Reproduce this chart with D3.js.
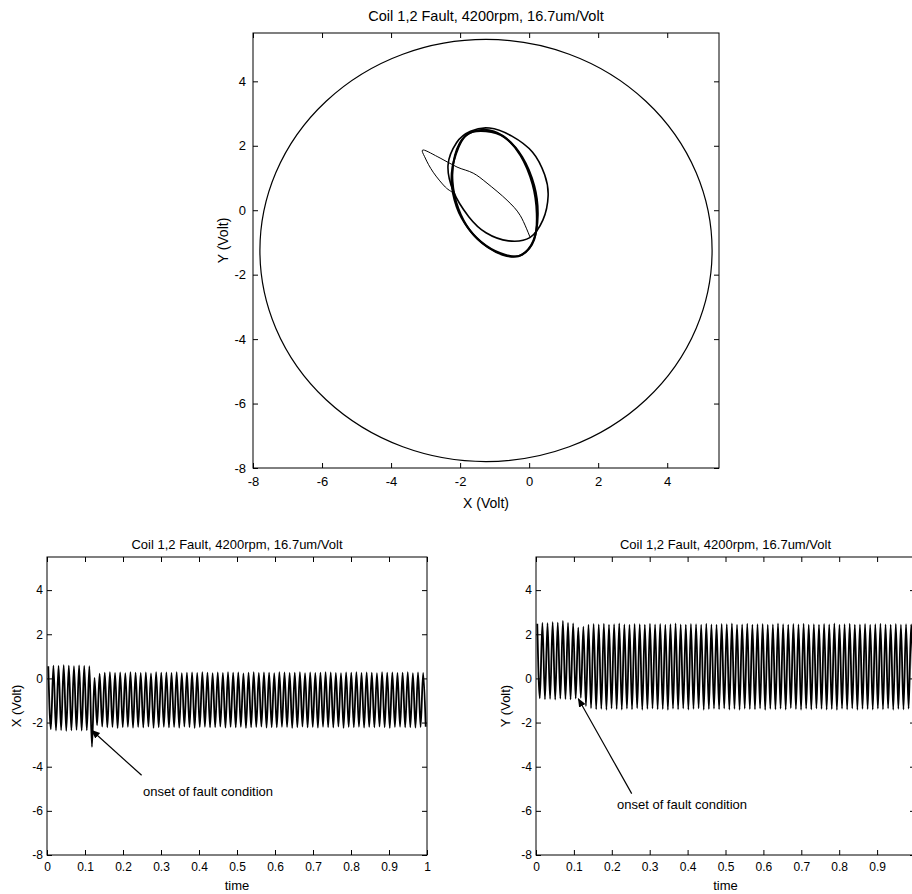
<!DOCTYPE html>
<html>
<head>
<meta charset="utf-8">
<script src="https://cdn.jsdelivr.net/npm/d3@7"></script>
<style>
  body { margin: 0; background: #fff; }
  svg { display: block; font-family: "Liberation Sans", Arial, sans-serif; }
</style>
</head>
<body>
<script>
// ---- data ----

// orbit plot ticks (both axes)
let orbitTicks = [-8, -6, -4, -2, 0, 2, 4];
let timeTicks = [0, 0.1, 0.2, 0.3, 0.4, 0.5, 0.6, 0.7, 0.8, 0.9, 1];
let voltTicks = [-8, -6, -4, -2, 0, 2, 4];

// clearance circle: centre x, centre y, radius (Volt)
let clearance = [-1.25, -1.25, 6.55];

// orbit traces, [X, Y] in Volt
let preFaultLoop = [[-1.15, 2.55], [-0.5, 2.3], [0.1, 1.8], [0.45, 1.1], [0.55, 0.45], [0.4, -0.3], [0.02, -0.85],
  [-0.6, -0.95], [-1.25, -0.7], [-1.75, -0.2], [-2.2, 0.6], [-2.35, 1.4], [-2.1, 2.1], [-1.7, 2.45]];
let postLoopA = [[-1.3, 2.5], [-0.75, 2.3], [-0.25, 1.7], [0.1, 0.8], [0.22, -0.1], [0.15, -0.9], [-0.2, -1.38],
  [-0.65, -1.42], [-1.2, -1.15], [-1.7, -0.65], [-2.05, 0.05], [-2.22, 0.9], [-2.15, 1.7], [-1.85, 2.3]];
let postLoopB = [[-1.25, 2.45], [-0.7, 2.25], [-0.2, 1.65], [0.15, 0.75], [0.25, -0.15], [0.12, -0.95], [-0.25, -1.4],
  [-0.7, -1.38], [-1.25, -1.1], [-1.75, -0.58], [-2.1, 0.1], [-2.25, 0.95], [-2.12, 1.75], [-1.8, 2.35]];
let transient = [[0.03, -0.85], [-0.26, -0.16], [-0.64, 0.31], [-1.22, 0.84], [-1.62, 1.15], [-2.09, 1.34],
  [-2.58, 1.62], [-3.07, 1.87], [-3.01, 1.62], [-2.78, 1.18], [-2.43, 0.72], [-2.2, 0.55]];

// time traces: one peak and one trough per shaft revolution
let cyclesPerSecond = 74;
let xPeaks = [0.55, 0.58, 0.57, 0.60, 0.58, 0.56, 0.59, 0.57, 0.55, 0.02,
  0.22, 0.26, 0.28, 0.25, 0.27, 0.24, 0.28, 0.26, 0.25, 0.27,
  0.23, 0.28, 0.26, 0.27, 0.25, 0.28, 0.24, 0.26, 0.27, 0.25,
  0.28, 0.26, 0.24, 0.27, 0.25, 0.28, 0.26, 0.27, 0.23, 0.26,
  0.28, 0.25, 0.27, 0.26, 0.24, 0.28, 0.27, 0.25, 0.26, 0.28,
  0.24, 0.27, 0.25, 0.26, 0.28, 0.27, 0.25, 0.24, 0.27, 0.26,
  0.28, 0.25, 0.27, 0.26, 0.24, 0.28, 0.26, 0.27, 0.25, 0.26,
  0.28, 0.24, 0.27, 0.25];
let xTroughs = [-2.30, -2.36, -2.34, -2.38, -2.35, -2.33, -2.37, -2.35, -3.10, -2.12,
  -2.18, -2.22, -2.20, -2.24, -2.21, -2.19, -2.23, -2.20, -2.22, -2.18,
  -2.24, -2.21, -2.19, -2.22, -2.20, -2.23, -2.18, -2.21, -2.24, -2.20,
  -2.19, -2.22, -2.21, -2.18, -2.23, -2.20, -2.22, -2.19, -2.24, -2.21,
  -2.20, -2.18, -2.23, -2.21, -2.22, -2.19, -2.20, -2.24, -2.21, -2.18,
  -2.22, -2.20, -2.23, -2.19, -2.21, -2.22, -2.18, -2.24, -2.20, -2.21,
  -2.19, -2.23, -2.20, -2.22, -2.18, -2.21, -2.24, -2.20, -2.19, -2.22,
  -2.21, -2.23, -2.20, -2.19];
let yPeaks = [2.48, 2.52, 2.50, 2.55, 2.53, 2.60, 2.51, 2.49, 2.30, 2.35,
  2.44, 2.47, 2.45, 2.48, 2.43, 2.46, 2.49, 2.45, 2.44, 2.47,
  2.46, 2.43, 2.48, 2.45, 2.47, 2.44, 2.46, 2.49, 2.45, 2.43,
  2.47, 2.46, 2.44, 2.48, 2.45, 2.43, 2.47, 2.46, 2.49, 2.44,
  2.45, 2.48, 2.43, 2.46, 2.47, 2.44, 2.45, 2.49, 2.46, 2.43,
  2.47, 2.45, 2.48, 2.44, 2.46, 2.43, 2.47, 2.45, 2.49, 2.44,
  2.46, 2.48, 2.43, 2.45, 2.47, 2.44, 2.46, 2.48, 2.45, 2.43,
  2.47, 2.44, 2.46, 2.45];
let yTroughs = [-0.90, -0.95, -0.93, -0.96, -0.92, -0.94, -0.95, -0.91, -0.88, -1.25,
  -1.35, -1.40, -1.38, -1.42, -1.36, -1.39, -1.41, -1.37, -1.40, -1.35,
  -1.42, -1.38, -1.36, -1.40, -1.39, -1.43, -1.37, -1.40, -1.36, -1.41,
  -1.38, -1.35, -1.42, -1.39, -1.37, -1.40, -1.36, -1.41, -1.38, -1.42,
  -1.37, -1.39, -1.40, -1.36, -1.43, -1.38, -1.40, -1.37, -1.41, -1.35,
  -1.39, -1.42, -1.37, -1.40, -1.36, -1.38, -1.41, -1.39, -1.43, -1.37,
  -1.40, -1.36, -1.42, -1.38, -1.39, -1.41, -1.37, -1.40, -1.36, -1.42,
  -1.38, -1.40, -1.37, -1.39];

let titleText = 'Coil 1,2 Fault, 4200rpm,  16.7um/Volt';
let titleSmall = 'Coil 1,2 Fault, 4200rpm, 16.7um/Volt';
let noteText = 'onset of fault condition';

let svg = d3.select('body')
  .append('svg')
  .attr('width', 912)
  .attr('height', 894);

svg.append('defs').append('marker')
  .attr('id', 'head')
  .attr('viewBox', '0 0 10 10')
  .attr('refX', 9).attr('refY', 5)
  .attr('markerWidth', 9).attr('markerHeight', 9)
  .attr('markerUnits', 'userSpaceOnUse')
  .attr('orient', 'auto')
  .append('path')
  .attr('d', 'M0,1L10,5L0,9z')
  .attr('fill', '#000');

// plain hyphen minus like matlab prints
let plainFmt = function (d) { return String(d); };

// draws a matlab style box with inward ticks on all four sides
function makePanel(opt) {
  let g = svg.append('g').attr('transform', 'translate(' + opt.left + ',' + opt.top + ')');
  let w = opt.right - opt.left, h = opt.bottom - opt.top;
  let x = d3.scaleLinear().domain(opt.xDomain).range([0, w]);
  let y = d3.scaleLinear().domain(opt.yDomain).range([h, 0]);

  g.append('rect').attr('width', w).attr('height', h)
    .attr('fill', 'none').attr('stroke', '#000').attr('stroke-width', 1);

  let fs = opt.fontSize;
  g.append('g').attr('transform', 'translate(0,' + h + ')')
    .call(d3.axisBottom(x).tickValues(opt.xTicks).tickSize(-5).tickPadding(opt.xPad).tickFormat(opt.xFmt || plainFmt));
  g.append('g')
    .call(d3.axisTop(x).tickValues(opt.xTicks).tickSize(-5).tickFormat(''));
  g.append('g')
    .call(d3.axisLeft(y).tickValues(opt.yTicks).tickSize(-5).tickPadding(opt.yPad).tickFormat(plainFmt));
  g.append('g').attr('transform', 'translate(' + w + ',0)')
    .call(d3.axisRight(y).tickValues(opt.yTicks).tickSize(-5).tickFormat(''));

  g.selectAll('.domain').remove();
  g.selectAll('.tick line').attr('stroke', '#000');
  g.selectAll('.tick text').attr('fill', '#000').style('font-size', fs + 'px').style('font-family', '"Liberation Sans", Arial, sans-serif');

  g.append('text').attr('x', w / 2).attr('y', -opt.titleGap)
    .attr('text-anchor', 'middle').style('font-size', opt.titleSize + 'px')
    .text(opt.title);
  g.append('text').attr('x', w / 2).attr('y', h + opt.xLabelGap)
    .attr('text-anchor', 'middle').style('font-size', opt.labelSize + 'px')
    .text(opt.xLabel);
  g.append('text')
    .attr('transform', 'translate(' + (-opt.yLabelGap) + ',' + (h / 2 + opt.yLabelShift) + ') rotate(-90)')
    .attr('text-anchor', 'middle').style('font-size', opt.labelSize + 'px')
    .text(opt.yLabel);

  return { g: g, x: x, y: y };
}

// ---- orbit plot ----
let orbit = makePanel({
  left: 253, right: 719, top: 33, bottom: 468,
  xDomain: [-8, 5.5], yDomain: [-8, 5.5],
  xTicks: orbitTicks, yTicks: orbitTicks,
  xPad: 9, yPad: 7, fontSize: 13, titleSize: 14.5, titleGap: 12, labelSize: 14,
  title: titleText, xLabel: 'X (Volt)', xLabelGap: 40,
  yLabel: 'Y (Volt)', yLabelGap: 25, yLabelShift: -10
});

orbit.g.append('ellipse')
  .attr('cx', orbit.x(clearance[0]))
  .attr('cy', orbit.y(clearance[1]))
  .attr('rx', orbit.x(clearance[0] + clearance[2]) - orbit.x(clearance[0]))
  .attr('ry', orbit.y(clearance[1]) - orbit.y(clearance[1] + clearance[2]))
  .attr('fill', 'none').attr('stroke', '#000').attr('stroke-width', 1.2);

let loopLine = d3.line()
  .x(function (d) { return orbit.x(d[0]); })
  .y(function (d) { return orbit.y(d[1]); })
  .curve(d3.curveCardinalClosed);

let openLine = d3.line()
  .x(function (d) { return orbit.x(d[0]); })
  .y(function (d) { return orbit.y(d[1]); })
  .curve(d3.curveCardinal);

orbit.g.append('path').attr('d', openLine(transient))
  .attr('fill', 'none').attr('stroke', '#000').attr('stroke-width', 1);
orbit.g.append('path').attr('d', loopLine(preFaultLoop))
  .attr('fill', 'none').attr('stroke', '#000').attr('stroke-width', 1.6);
orbit.g.append('path').attr('d', loopLine(postLoopA))
  .attr('fill', 'none').attr('stroke', '#000').attr('stroke-width', 2);
orbit.g.append('path').attr('d', loopLine(postLoopB))
  .attr('fill', 'none').attr('stroke', '#000').attr('stroke-width', 2);

// ---- time plots ----
function timePoints(peaks, troughs) {
  let pts = [];
  for (var i = 0; i < peaks.length; i++) {
    pts.push([(i + 0.25) / cyclesPerSecond, peaks[i]]);
    pts.push([(i + 0.75) / cyclesPerSecond, troughs[i]]);
  }
  return pts;
}

function timePanel(left, right, peaks, troughs, yLabel, note, xFmt) {
  let p = makePanel({
    left: left, right: right, top: 557, bottom: 855,
    xDomain: [0, 1], yDomain: [-8, 5.5],
    xTicks: timeTicks, yTicks: voltTicks, xFmt: xFmt,
    xPad: 7, yPad: 4, fontSize: 12, titleSize: 13, titleGap: 8, labelSize: 13,
    title: titleSmall, xLabel: 'time', xLabelGap: 35,
    yLabel: yLabel, yLabelGap: 26, yLabelShift: 0
  });

  let line = d3.line()
    .x(function (d) { return p.x(d[0]); })
    .y(function (d) { return p.y(d[1]); })
    .curve(d3.curveMonotoneX);

  p.g.append('path').attr('d', line(timePoints(peaks, troughs)))
    .attr('fill', 'none').attr('stroke', '#000').attr('stroke-width', 1.8);

  p.g.append('line')
    .attr('x1', p.x(note.tail[0])).attr('y1', p.y(note.tail[1]))
    .attr('x2', p.x(note.head[0])).attr('y2', p.y(note.head[1]))
    .attr('stroke', '#000').attr('stroke-width', 1.2)
    .attr('marker-end', 'url(#head)');

  p.g.append('text')
    .attr('x', p.x(note.at[0])).attr('y', p.y(note.at[1]))
    .style('font-size', '13px')
    .text(noteText);
  return p;
}

timePanel(47, 427, xPeaks, xTroughs, 'X (Volt)',
  { tail: [0.249, -4.39], head: [0.1176, -2.35], at: [0.2526, -5.34] });
// the right panel runs past the page edge, so its "1" label is not shown
timePanel(536, 915, yPeaks, yTroughs, 'Y (Volt)',
  { tail: [0.2525, -5.22], head: [0.1117, -0.92], at: [0.2137, -5.93] },
  function (d) { return d === 1 ? '' : String(d); });
</script>
</body>
</html>
